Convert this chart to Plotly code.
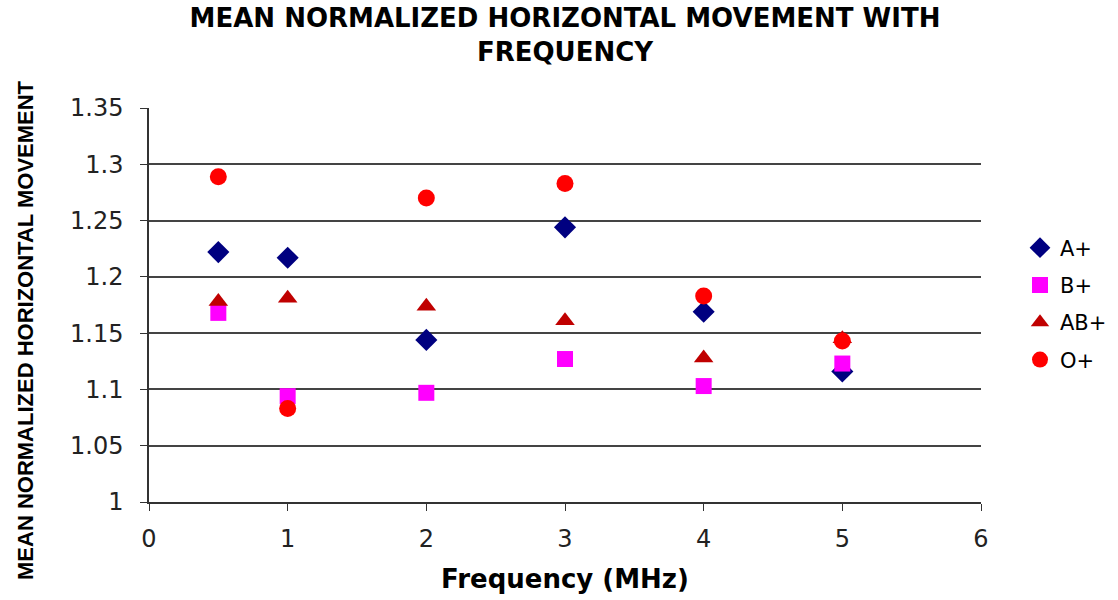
import plotly.graph_objects as go

freq = [0.5, 1, 2, 3, 4, 5]
a_pos = [1.222, 1.217, 1.144, 1.244, 1.169, 1.116]
b_pos = [1.168, 1.094, 1.097, 1.127, 1.103, 1.123]
ab_pos = [1.178, 1.181, 1.174, 1.161, 1.128, 1.145]
o_pos = [1.289, 1.083, 1.270, 1.283, 1.183, 1.143]

series = [
    ("A+", a_pos, "diamond", "#000080", 17),
    ("B+", b_pos, "square", "#FF00FF", 16),
    ("AB+", ab_pos, "triangle-up", "#C00000", 17),
    ("O+", o_pos, "circle", "#FF0000", 17),
]

fig = go.Figure()
for name, vals, sym, col, sz in series:
    fig.add_trace(go.Scatter(
        x=freq, y=vals, mode="markers", name=name, legendgroup=name,
        marker=dict(symbol=sym, color=col, size=sz, line=dict(width=0)),
    ))

fig.update_layout(
    width=1118, height=600,
    margin=dict(l=149, r=137, t=108, b=98),
    paper_bgcolor="white", plot_bgcolor="white",
    font=dict(family="DejaVu Sans, Arial, sans-serif", color="black"),
    title=dict(
        text="<b>MEAN NORMALIZED HORIZONTAL MOVEMENT WITH<br>FREQUENCY</b>",
        x=0.5, xanchor="center", xref="paper",
        yref="container", y=1 - 27 / 600, yanchor="middle",
        font=dict(size=26, color="black", family="DejaVu Sans, Arial, sans-serif"),
    ),
    showlegend=True,
    legend=dict(
        xref="container", yref="container",
        x=1020 / 1118, xanchor="left", y=1 - 304 / 600, yanchor="middle",
        font=dict(size=21, color="black"),
        bgcolor="rgba(0,0,0,0)",
        itemwidth=30,
        tracegroupgap=7,
    ),
    annotations=[dict(
        text="<b>MEAN NORMALIZED HORIZONTAL MOVEMENT</b>",
        textangle=-90, showarrow=False,
        xref="paper", yref="paper",
        x=-(149 - 25) / 832, y=(502 - 330) / 394,
        xanchor="center", yanchor="middle",
        font=dict(size=22, color="black", family="Arial, Liberation Sans, sans-serif"),
    )],
)

fig.update_xaxes(
    range=[0, 6], dtick=1, tick0=0,
    showgrid=False, zeroline=False,
    showline=True, linecolor="#333333", linewidth=1.5,
    ticks="outside", ticklen=7, tickcolor="#333333",
    ticklabelstandoff=7,
    tickfont=dict(size=24, color="#222222"),
    title=dict(text="<b>Frequency (MHz)</b>", font=dict(size=26, color="black"), standoff=18),
)
fig.update_yaxes(
    range=[1, 1.35], dtick=0.05, tick0=1,
    showgrid=True, gridcolor="#444444", gridwidth=1.5,
    zeroline=False,
    showline=True, linecolor="#333333", linewidth=1.5,
    ticks="outside", ticklen=7, tickcolor="#333333",
    ticklabelstandoff=12,
    tickformat="~g",
    tickfont=dict(size=24, color="#222222"),
)

fig.write_html("out.html")
